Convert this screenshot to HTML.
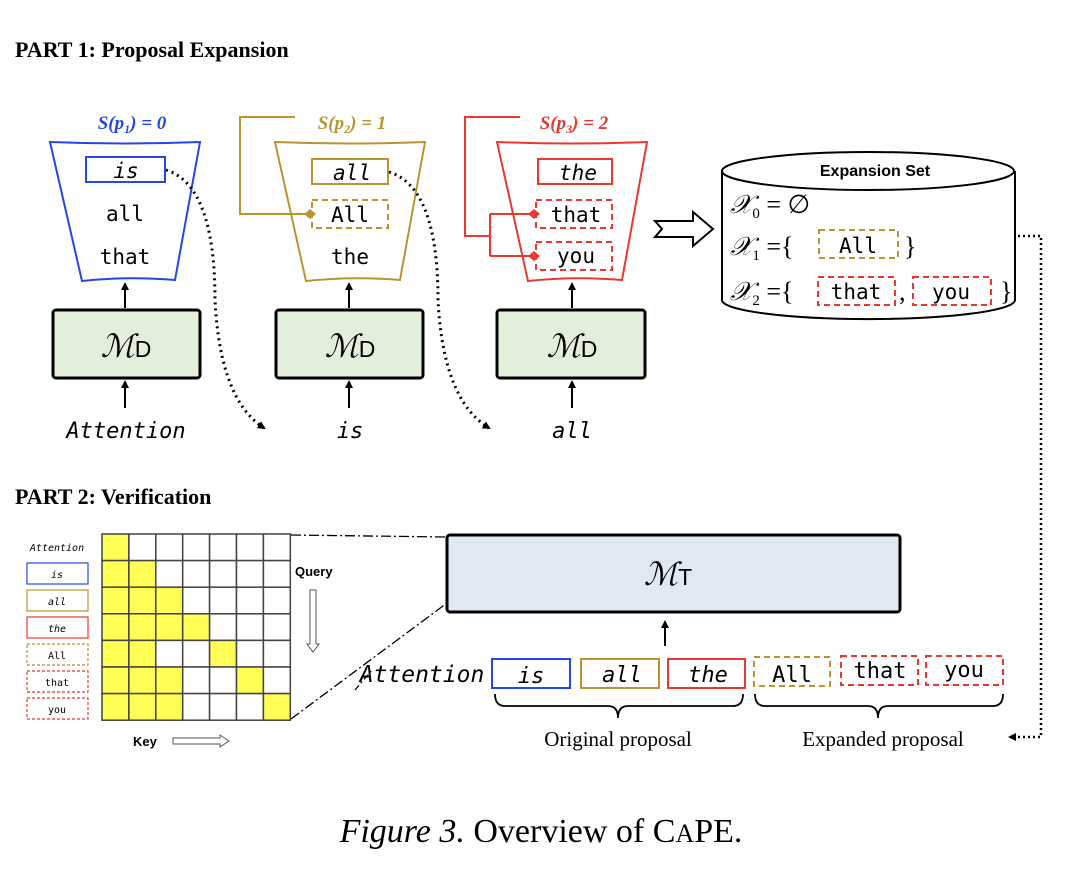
<!DOCTYPE html>
<html><head><meta charset="utf-8"><style>
body{margin:0;background:#fff}
svg{display:block}
.mono{font-family:"DejaVu Sans Mono","Liberation Mono",monospace}
.ser{font-family:"Liberation Serif",serif}
.sans{font-family:"Liberation Sans",sans-serif}
</style></head><body>
<svg width="1082" height="878" viewBox="0 0 1082 878" xmlns="http://www.w3.org/2000/svg">
<defs>
<marker id="ah" markerWidth="8" markerHeight="8" refX="6" refY="4" orient="auto" markerUnits="userSpaceOnUse"><path d="M0,0 L8,4 L0,8 z" fill="#000"/></marker>
<marker id="dm" markerWidth="12" markerHeight="12" refX="6" refY="6" orient="auto" markerUnits="userSpaceOnUse"><path d="M0,6 L6,1 L12,6 L6,11 z" fill="context-stroke"/></marker>
</defs>

<text x="15" y="57" class="ser" font-size="22" font-weight="bold">PART 1: Proposal Expansion</text>

<!-- Funnel 1 -->
<text x="132" y="129" text-anchor="middle" class="ser" font-size="19" font-weight="bold" font-style="italic" fill="#2646e8">S(p<tspan font-size="12" dy="4">1</tspan><tspan dy="-4">) = 0</tspan></text>
<path d="M50,142 Q125,145 200,142 L175,280 Q128,276 82,281 Z" fill="none" stroke="#2646e8" stroke-width="2"/>
<rect x="86" y="157" width="79" height="25" fill="none" stroke="#2646e8" stroke-width="2"/>
<text x="126" y="178" text-anchor="middle" class="mono" font-size="21" font-style="italic">is</text>
<text x="125" y="221" text-anchor="middle" class="mono" font-size="21">all</text>
<text x="125" y="264" text-anchor="middle" class="mono" font-size="21">that</text>

<!-- Funnel 2 -->
<text x="352" y="129" text-anchor="middle" class="ser" font-size="19" font-weight="bold" font-style="italic" fill="#b8952f">S(p<tspan font-size="12" dy="4">2</tspan><tspan dy="-4">) = 1</tspan></text>
<path d="M275,142 Q350,145 425,142 L400,280 Q352,276 306,281 Z" fill="none" stroke="#b8952f" stroke-width="2"/>
<polyline points="295,117 240,117 240,214 310,214" fill="none" stroke="#b8952f" stroke-width="2" marker-end="url(#dm)"/>
<rect x="312" y="159" width="76" height="25" fill="none" stroke="#b8952f" stroke-width="2"/>
<text x="352" y="180" text-anchor="middle" class="mono" font-size="21" font-style="italic">all</text>
<rect x="312" y="200" width="76" height="28" fill="none" stroke="#b8952f" stroke-width="2" stroke-dasharray="6,4"/>
<text x="350" y="222" text-anchor="middle" class="mono" font-size="21">All</text>
<text x="350" y="264" text-anchor="middle" class="mono" font-size="21">the</text>

<!-- Funnel 3 -->
<text x="574" y="129" text-anchor="middle" class="ser" font-size="19" font-weight="bold" font-style="italic" fill="#e8382f">S(p<tspan font-size="12" dy="4">3</tspan><tspan dy="-4">) = 2</tspan></text>
<path d="M497,142 Q572,145 647,142 L622,280 Q574,276 528,281 Z" fill="none" stroke="#e8382f" stroke-width="2"/>
<polyline points="520,117 465,117 465,236 490,236" fill="none" stroke="#e8382f" stroke-width="2"/>
<polyline points="490,214 490,256" fill="none" stroke="#e8382f" stroke-width="2"/>
<line x1="490" y1="214" x2="534" y2="214" stroke="#e8382f" stroke-width="2" marker-end="url(#dm)"/>
<line x1="490" y1="256" x2="534" y2="256" stroke="#e8382f" stroke-width="2" marker-end="url(#dm)"/>
<rect x="538" y="159" width="74" height="25" fill="none" stroke="#e8382f" stroke-width="2"/>
<text x="578" y="180" text-anchor="middle" class="mono" font-size="21" font-style="italic">the</text>
<rect x="536" y="200" width="76" height="28" fill="none" stroke="#e8382f" stroke-width="2" stroke-dasharray="6,4"/>
<text x="576" y="222" text-anchor="middle" class="mono" font-size="21">that</text>
<rect x="536" y="242" width="76" height="28" fill="none" stroke="#e8382f" stroke-width="2" stroke-dasharray="6,4"/>
<text x="576" y="263" text-anchor="middle" class="mono" font-size="21">you</text>

<!-- MD boxes -->
<g stroke="#000" stroke-width="3" fill="#e3efdb">
<rect x="53" y="310" width="147" height="68" rx="3"/>
<rect x="276" y="310" width="147" height="68" rx="3"/>
<rect x="497" y="310" width="148" height="68" rx="3"/>
</g>
<g class="ser" font-size="32" font-style="italic" text-anchor="middle">
<text x="126" y="357">ℳ<tspan class="sans" font-style="normal" font-size="23">D</tspan></text>
<text x="350" y="357">ℳ<tspan class="sans" font-style="normal" font-size="23">D</tspan></text>
<text x="572" y="357">ℳ<tspan class="sans" font-style="normal" font-size="23">D</tspan></text>
</g>
<g stroke="#000" stroke-width="2" marker-end="url(#ah)">
<line x1="125" y1="308" x2="125" y2="284"/>
<line x1="349" y1="308" x2="349" y2="284"/>
<line x1="572" y1="308" x2="572" y2="284"/>
<line x1="125" y1="408" x2="125" y2="382"/>
<line x1="349" y1="408" x2="349" y2="382"/>
<line x1="572" y1="408" x2="572" y2="382"/>
</g>
<g class="mono" font-size="22" font-style="italic" text-anchor="middle">
<text x="126" y="438">Attention</text>
<text x="350" y="438">is</text>
<text x="572" y="438">all</text>
</g>
<path d="M166,170 Q215,185 215,300 Q220,400 264,428" fill="none" stroke="#000" stroke-width="3" stroke-dasharray="2,4" marker-end="url(#ah)"/>
<path d="M389,172 Q438,187 438,300 Q443,400 489,428" fill="none" stroke="#000" stroke-width="3" stroke-dasharray="2,4" marker-end="url(#ah)"/>

<path d="M655,221 L693,221 L693,212 L713,229 L693,246 L693,237 L655,237 L662,229 Z" fill="#fff" stroke="#000" stroke-width="2"/>

<!-- cylinder -->
<path d="M722,171 L722,300 A146,19 0 0 0 1015,300 L1015,171" fill="#fff" stroke="#000" stroke-width="2"/>
<ellipse cx="868" cy="171" rx="146" ry="19" fill="#fff" stroke="#000" stroke-width="2"/>
<text x="875" y="176" text-anchor="middle" class="sans" font-size="16" font-weight="bold">Expansion Set</text>
<g class="ser" font-size="26" font-style="italic">
<text x="730" y="213">𝒳<tspan font-size="15" font-style="normal" dy="5">0</tspan><tspan dy="-5" font-style="normal"> = ∅</tspan></text>
<text x="730" y="255">𝒳<tspan font-size="15" font-style="normal" dy="5">1</tspan><tspan dy="-5" font-style="normal"> ={</tspan></text>
<text x="730" y="300">𝒳<tspan font-size="15" font-style="normal" dy="5">2</tspan><tspan dy="-5" font-style="normal"> ={</tspan></text>
<text x="904" y="255" font-style="normal">}</text>
<text x="1000" y="300" font-style="normal">}</text>
<text x="899" y="300" font-style="normal">,</text>
</g>
<rect x="819" y="230" width="79" height="28" fill="none" stroke="#b8952f" stroke-width="2" stroke-dasharray="6,4"/>
<text x="858" y="253" text-anchor="middle" class="mono" font-size="21">All</text>
<rect x="818" y="277" width="77" height="28" fill="none" stroke="#e8382f" stroke-width="2" stroke-dasharray="6,4"/>
<text x="856" y="299" text-anchor="middle" class="mono" font-size="21">that</text>
<rect x="913" y="277" width="78" height="28" fill="none" stroke="#e8382f" stroke-width="2" stroke-dasharray="6,4"/>
<text x="951" y="299" text-anchor="middle" class="mono" font-size="21">you</text>

<polyline points="1018,236 1041,236 1041,737 1010,737" fill="none" stroke="#000" stroke-width="2.5" stroke-dasharray="2,3" marker-end="url(#ah)"/>

<!-- PART 2 -->
<text x="15" y="504" class="ser" font-size="22" font-weight="bold">PART 2: Verification</text>

<g class="mono" font-size="10" text-anchor="middle">
<text x="57" y="551" font-style="italic">Attention</text>
<rect x="27" y="563" width="61" height="21" fill="none" stroke="#2646e8" stroke-width="1.2"/>
<text x="57" y="578" font-style="italic">is</text>
<rect x="27" y="590" width="61" height="21" fill="none" stroke="#b8952f" stroke-width="1.2"/>
<text x="57" y="605" font-style="italic">all</text>
<rect x="27" y="617" width="61" height="21" fill="none" stroke="#e8382f" stroke-width="1.2"/>
<text x="57" y="632" font-style="italic">the</text>
<rect x="27" y="644" width="61" height="21" fill="none" stroke="#b8952f" stroke-width="1.2" stroke-dasharray="3,2"/>
<text x="57" y="659">All</text>
<rect x="27" y="671" width="61" height="21" fill="none" stroke="#e8382f" stroke-width="1.2" stroke-dasharray="3,2"/>
<text x="57" y="686">that</text>
<rect x="27" y="698" width="61" height="21" fill="none" stroke="#e8382f" stroke-width="1.2" stroke-dasharray="3,2"/>
<text x="57" y="713">you</text>
</g>

<g stroke="#444" stroke-width="1.5">
<g fill="#fff">
<rect x="102" y="534" width="26.9" height="26.6" fill="#ffff55"/><rect x="128.9" y="534" width="26.9" height="26.6"/><rect x="155.8" y="534" width="26.9" height="26.6"/><rect x="182.7" y="534" width="26.9" height="26.6"/><rect x="209.6" y="534" width="26.9" height="26.6"/><rect x="236.5" y="534" width="26.9" height="26.6"/><rect x="263.4" y="534" width="26.9" height="26.6"/>
<rect x="102" y="560.6" width="26.9" height="26.6" fill="#ffff55"/><rect x="128.9" y="560.6" width="26.9" height="26.6" fill="#ffff55"/><rect x="155.8" y="560.6" width="26.9" height="26.6"/><rect x="182.7" y="560.6" width="26.9" height="26.6"/><rect x="209.6" y="560.6" width="26.9" height="26.6"/><rect x="236.5" y="560.6" width="26.9" height="26.6"/><rect x="263.4" y="560.6" width="26.9" height="26.6"/>
<rect x="102" y="587.2" width="26.9" height="26.6" fill="#ffff55"/><rect x="128.9" y="587.2" width="26.9" height="26.6" fill="#ffff55"/><rect x="155.8" y="587.2" width="26.9" height="26.6" fill="#ffff55"/><rect x="182.7" y="587.2" width="26.9" height="26.6"/><rect x="209.6" y="587.2" width="26.9" height="26.6"/><rect x="236.5" y="587.2" width="26.9" height="26.6"/><rect x="263.4" y="587.2" width="26.9" height="26.6"/>
<rect x="102" y="613.8" width="26.9" height="26.6" fill="#ffff55"/><rect x="128.9" y="613.8" width="26.9" height="26.6" fill="#ffff55"/><rect x="155.8" y="613.8" width="26.9" height="26.6" fill="#ffff55"/><rect x="182.7" y="613.8" width="26.9" height="26.6" fill="#ffff55"/><rect x="209.6" y="613.8" width="26.9" height="26.6"/><rect x="236.5" y="613.8" width="26.9" height="26.6"/><rect x="263.4" y="613.8" width="26.9" height="26.6"/>
<rect x="102" y="640.4" width="26.9" height="26.6" fill="#ffff55"/><rect x="128.9" y="640.4" width="26.9" height="26.6" fill="#ffff55"/><rect x="155.8" y="640.4" width="26.9" height="26.6"/><rect x="182.7" y="640.4" width="26.9" height="26.6"/><rect x="209.6" y="640.4" width="26.9" height="26.6" fill="#ffff55"/><rect x="236.5" y="640.4" width="26.9" height="26.6"/><rect x="263.4" y="640.4" width="26.9" height="26.6"/>
<rect x="102" y="667" width="26.9" height="26.6" fill="#ffff55"/><rect x="128.9" y="667" width="26.9" height="26.6" fill="#ffff55"/><rect x="155.8" y="667" width="26.9" height="26.6" fill="#ffff55"/><rect x="182.7" y="667" width="26.9" height="26.6"/><rect x="209.6" y="667" width="26.9" height="26.6"/><rect x="236.5" y="667" width="26.9" height="26.6" fill="#ffff55"/><rect x="263.4" y="667" width="26.9" height="26.6"/>
<rect x="102" y="693.6" width="26.9" height="26.6" fill="#ffff55"/><rect x="128.9" y="693.6" width="26.9" height="26.6" fill="#ffff55"/><rect x="155.8" y="693.6" width="26.9" height="26.6" fill="#ffff55"/><rect x="182.7" y="693.6" width="26.9" height="26.6"/><rect x="209.6" y="693.6" width="26.9" height="26.6"/><rect x="236.5" y="693.6" width="26.9" height="26.6"/><rect x="263.4" y="693.6" width="26.9" height="26.6" fill="#ffff55"/>
</g>
</g>
<text x="295" y="576" class="sans" font-size="13" font-weight="bold">Query</text>
<path d="M310,590 L316,590 L316,644 L319,644 L313,652 L307,644 L310,644 Z" fill="#fff" stroke="#555" stroke-width="1"/>
<text x="133" y="746" class="sans" font-size="13" font-weight="bold">Key</text>
<path d="M173,738 L220,738 L220,735 L229,741 L220,747 L220,744 L173,744 Z" fill="#fff" stroke="#555" stroke-width="1"/>

<line x1="291" y1="535" x2="447" y2="537" stroke="#000" stroke-width="1.3" stroke-dasharray="10,3,2,3"/>
<line x1="291" y1="719" x2="447" y2="603" stroke="#000" stroke-width="1.3" stroke-dasharray="10,3,2,3"/>
<line x1="355" y1="690" x2="372" y2="670" stroke="#000" stroke-width="1.3" stroke-dasharray="6,3,2,3"/>

<rect x="447" y="535" width="453" height="77" rx="3" fill="#dfe8f3" stroke="#000" stroke-width="3"/>
<text x="668" y="585" text-anchor="middle" class="ser" font-size="32" font-style="italic">ℳ<tspan class="sans" font-style="normal" font-size="23">T</tspan></text>
<line x1="665" y1="646" x2="665" y2="622" stroke="#000" stroke-width="2" marker-end="url(#ah)"/>

<text x="422" y="682" text-anchor="middle" class="mono" font-size="23" font-style="italic">Attention</text>
<rect x="492" y="659" width="78" height="29" fill="none" stroke="#2646e8" stroke-width="2"/>
<text x="531" y="683" text-anchor="middle" class="mono" font-size="22" font-style="italic">is</text>
<rect x="581" y="659" width="78" height="29" fill="none" stroke="#b8952f" stroke-width="2"/>
<text x="622" y="682" text-anchor="middle" class="mono" font-size="22" font-style="italic">all</text>
<rect x="668" y="659" width="77" height="29" fill="none" stroke="#e8382f" stroke-width="2"/>
<text x="708" y="682" text-anchor="middle" class="mono" font-size="22" font-style="italic">the</text>
<rect x="754" y="657" width="76" height="29" fill="none" stroke="#b8952f" stroke-width="2" stroke-dasharray="6,4"/>
<text x="792" y="682" text-anchor="middle" class="mono" font-size="22">All</text>
<rect x="841" y="656" width="77" height="29" fill="none" stroke="#e8382f" stroke-width="2" stroke-dasharray="6,4"/>
<text x="880" y="678" text-anchor="middle" class="mono" font-size="22">that</text>
<rect x="926" y="656" width="77" height="29" fill="none" stroke="#e8382f" stroke-width="2" stroke-dasharray="6,4"/>
<text x="964" y="677" text-anchor="middle" class="mono" font-size="22">you</text>

<path d="M495,694 Q495,706 505,706 L608,706 Q618,706 618,718 Q618,706 628,706 L733,706 Q743,706 743,694" fill="none" stroke="#000" stroke-width="1.8"/>
<path d="M755,694 Q755,706 765,706 L868,706 Q878,706 878,718 Q878,706 888,706 L993,706 Q1003,706 1003,694" fill="none" stroke="#000" stroke-width="1.8"/>
<text x="618" y="746" text-anchor="middle" class="ser" font-size="21">Original proposal</text>
<text x="883" y="746" text-anchor="middle" class="ser" font-size="21">Expanded proposal</text>

<text x="541" y="842" text-anchor="middle" class="ser" font-size="34"><tspan font-style="italic">Figure 3.</tspan> Overview of C<tspan font-size="26">A</tspan>PE.</text>
</svg>
</body></html>
